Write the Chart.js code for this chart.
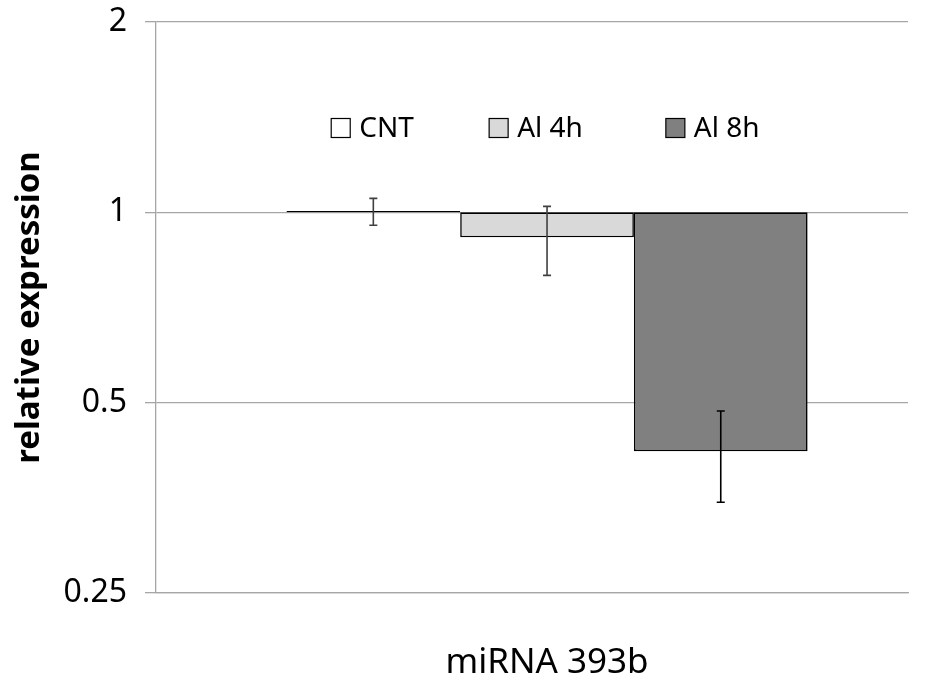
<!DOCTYPE html>
<html>
<head>
<meta charset="utf-8">
<script src="https://cdn.jsdelivr.net/npm/chart.js@4.4.0/dist/chart.umd.min.js"></script>
<style>
  html, body { margin: 0; padding: 0; background: #fff; }
  #wrap { width: 931px; height: 681px; }
</style>
</head>
<body>
<div id="wrap"><canvas id="chart"></canvas></div>
<script>
// data
const categories = ['miRNA 393b'];
const seriesLabels = ['CNT', 'Al 4h', 'Al 8h'];
const means = [1.005, 0.913, 0.419];
const errHigh = [1.052, 1.022, 0.485];
const errLow = [0.954, 0.795, 0.348];
const yTicks = [0.25, 0.5, 1, 2];
const baseline = 1;

const fills = ['#ffffff', '#d9d9d9', '#808080'];
const errColors = ['#404040', '#404040', '#000000'];
const gridColor = '#a6a6a6';
const fontFamily = '"Noto Sans", sans-serif';

// error bars drawn on top of each bar
const errorBars = {
  id: 'errorBars',
  afterDatasetsDraw(chart) {
    const ctx = chart.ctx;
    const y = chart.scales.y;
    chart.data.datasets.forEach((ds, i) => {
      chart.getDatasetMeta(i).data.forEach(bar => {
        const top = y.getPixelForValue(errHigh[i]);
        const bot = y.getPixelForValue(errLow[i]);
        ctx.save();
        ctx.strokeStyle = errColors[i];
        ctx.lineWidth = 1.6;
        ctx.beginPath();
        ctx.moveTo(bar.x, top); ctx.lineTo(bar.x, bot);
        ctx.moveTo(bar.x - 4, top); ctx.lineTo(bar.x + 4, top);
        ctx.moveTo(bar.x - 4, bot); ctx.lineTo(bar.x + 4, bot);
        ctx.stroke();
        ctx.restore();
      });
    });
  }
};

// legend sits inside the plot, like the Excel original
const insideLegend = {
  id: 'insideLegend',
  afterDraw(chart, args, opts) {
    const ctx = chart.ctx;
    const area = chart.chartArea;
    const yMid = area.top + opts.top;
    ctx.save();
    ctx.font = opts.fontSize + 'px ' + fontFamily;
    ctx.textBaseline = 'middle';
    ctx.textAlign = 'left';
    chart.data.datasets.forEach((ds, i) => {
      const x = area.left + opts.slots[i] * (area.right - area.left);
      ctx.fillStyle = ds.backgroundColor;
      ctx.fillRect(x, yMid - 9.5, 19, 19);
      ctx.strokeStyle = '#000';
      ctx.lineWidth = 1.2;
      ctx.strokeRect(x, yMid - 9.5, 19, 19);
      ctx.fillStyle = '#000';
      ctx.fillText(ds.label, x + 28, yMid + 1);
    });
    ctx.restore();
  }
};

const datasets = seriesLabels.map((label, i) => ({
  label: label,
  data: [[baseline, means[i]]],
  backgroundColor: fills[i],
  borderColor: '#000',
  borderWidth: 1.6,
  borderSkipped: false,
  categoryPercentage: 0.693,
  barPercentage: 1.0
}));

new Chart(document.getElementById('chart'), {
  type: 'bar',
  data: { labels: categories, datasets: datasets },
  plugins: [errorBars, insideLegend],
  options: {
    responsive: true,
    maintainAspectRatio: false,
    animation: false,
    layout: { padding: { top: 22, right: 23, left: 0, bottom: 0 } },
    plugins: {
      legend: { display: false },
      tooltip: { enabled: false },
      insideLegend: { top: 106, fontSize: 28, slots: [0.233, 0.443, 0.678] }
    },
    scales: {
      x: {
        grid: { display: false, drawTicks: false },
        border: { display: true, color: gridColor, width: 1.3 },
        ticks: { color: '#000', font: { family: fontFamily, size: 35 }, padding: 49 },
        // the original group sits a little right of centre
        afterBuildTicks(scale) { scale._startValue = -0.52; },
        afterFit(scale) { scale.height = 88; }
      },
      y: {
        type: 'logarithmic',
        min: 0.25,
        max: 2,
        afterBuildTicks(scale) { scale.ticks = yTicks.map(v => ({ value: v })); },
        afterFit(scale) {
          scale.width = 156;
          scale.paddingTop = 0;
          scale.paddingBottom = 0;
        },
        grid: { color: gridColor, lineWidth: 1.3, tickLength: 11 },
        border: { color: gridColor, width: 1.3 },
        ticks: {
          color: '#000',
          padding: 18,
          font: { family: fontFamily, size: 32 },
          callback: v => String(v)
        },
        title: {
          display: true,
          text: 'relative expression',
          color: '#000',
          font: { family: fontFamily, size: 33, weight: 'bold' },
          padding: { top: 10, bottom: 0 }
        }
      }
    }
  }
});
</script>
</body>
</html>
